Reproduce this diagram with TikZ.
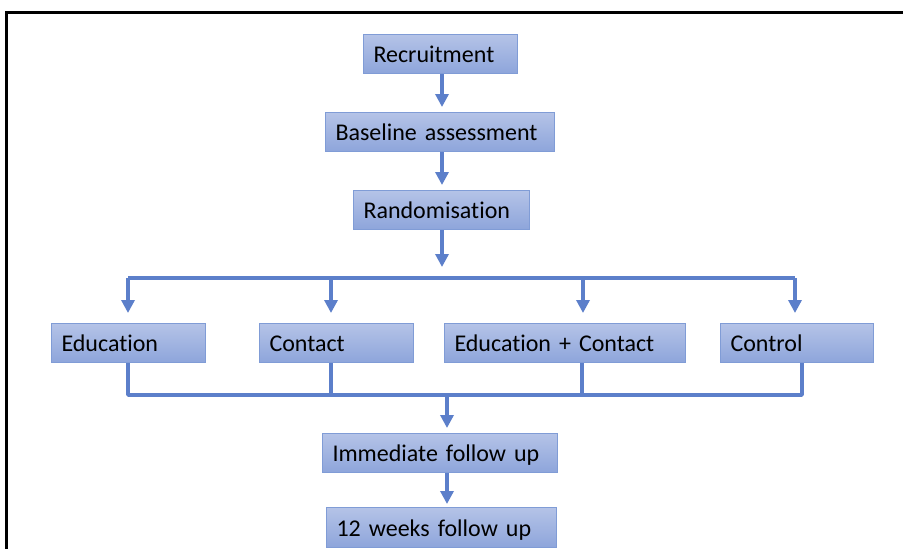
\documentclass[tikz,border=0pt]{standalone}
\usepackage{fontspec}
\setmainfont{Carlito}[Ligatures=CommonOff]
\usetikzlibrary{arrows.meta}
\definecolor{boxtop}{RGB}{180,195,231}
\definecolor{boxbot}{RGB}{142,165,219}
\definecolor{boxedge}{RGB}{128,156,214}
\definecolor{linec}{RGB}{92,127,202}
\begin{document}
\begin{tikzpicture}[x=1pt,y=-1pt,
  stagebox/.style={draw=boxedge, line width=1pt, top color=boxtop, bottom color=boxbot,
    anchor=north west, minimum height=39pt, inner xsep=10pt, inner ysep=0pt, align=left,
    font=\fontsize{24}{28}\selectfont, text height=20pt, text depth=3pt},
  link/.style={draw=linec, line width=3.5pt, line join=round},
  conn/.style={link, -{Triangle[length=13pt,width=13pt]}}]
\useasboundingbox (0,0) rectangle (903,549);
\fill[white] (0,0) rectangle (903,549);
\draw[line width=3pt, line cap=rect] (6,549) -- (6,12) -- (903,12);

\node[stagebox, text width=134pt] (rec) at (363,34) {Recruitment};
\node[stagebox, text width=209pt] (bas) at (325,112) {Baseline assessment};
\node[stagebox, text width=156pt] (ran) at (353,190) {Randomisation};
\node[stagebox, text width=134pt] (edu) at (51,323) {Education};
\node[stagebox, text width=134pt] (con) at (259,323) {Contact};
\node[stagebox, text width=221pt] (ec) at (444,323) {Education + Contact};
\node[stagebox, text width=133pt] (ctl) at (720,323) {Control};
\node[stagebox, text width=215pt] (imm) at (322,433) {Immediate follow up};
\node[stagebox, text width=210pt, minimum height=40pt] (wk) at (326,507) {12 weeks follow up};

\coordinate (top) at (442,0);
\draw[conn, shorten >=5pt] (rec.south -| top) -- (bas.north -| top);
\draw[conn, shorten >=5pt] (bas.south -| top) -- (ran.north -| top);
\coordinate (split) at (442,278);
\draw[conn, shorten >=11pt] (ran.south -| split) -- (split);

\coordinate (b1) at (128,278);
\coordinate (b2) at (331,278);
\coordinate (b3) at (583,278);
\coordinate (b4) at (795,278);
\draw[link] (b1) -- (b4);
\draw[conn, shorten >=10pt] (b1) -- (edu.north -| b1);
\draw[conn, shorten >=10pt] (b2) -- (con.north -| b2);
\draw[conn, shorten >=10pt] (b3) -- (ec.north -| b3);
\draw[conn, shorten >=10pt] (b4) -- (ctl.north -| b4);

\coordinate (m1) at (128,395);
\coordinate (m2) at (331,395);
\coordinate (m3) at (582,395);
\coordinate (m4) at (802,395);
\draw[link] (edu.south -| m1) -- (m1) -- (m4) -- (ctl.south -| m4);
\draw[link] (con.south -| m2) -- (m2);
\draw[link] (ec.south -| m3) -- (m3);

\coordinate (merge) at (447,395);
\draw[conn, shorten >=5pt] (merge) -- (imm.north -| merge);
\draw[conn, shorten >=3pt] (imm.south -| merge) -- (wk.north -| merge);
\end{tikzpicture}
\end{document}
